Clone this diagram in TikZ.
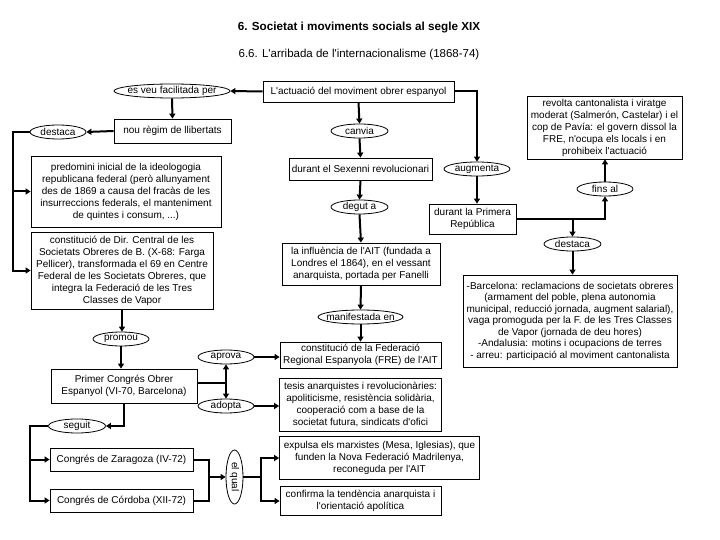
\documentclass[tikz,border=0pt]{standalone}
\usepackage{fontspec}
\setmainfont{Liberation Sans}
\usetikzlibrary{arrows.meta,shapes.geometric}
\newcommand{\ap}{\textquotesingle}
\begin{document}
\begin{tikzpicture}[x=1pt,y=-1pt,
  box/.style={draw, line width=0.8pt, align=center, inner sep=0pt, fill=white, font=\fontsize{10}{12}\selectfont},
  oval/.style={ellipse, draw, line width=0.8pt, inner sep=0pt, minimum height=14pt, fill=white, font=\fontsize{10}{12}\selectfont},
  link/.style={line width=2pt},
  arr/.style={link, -{Triangle[length=5pt,width=6pt]}},
  ttl/.style={anchor=base, font=\fontsize{11.5}{14}\selectfont}
]
\useasboundingbox (0,0) rectangle (720,540);
\node[ttl, font=\bfseries\fontsize{11.7}{14}\selectfont] (title) at (359,31) {6. Societat i moviments socials al segle XIX};
\node[ttl] (sub) at (359,58) {6.6. L\ap arribada de l\ap internacionalisme (1868-74)};

% central column
\node[box, minimum width=191pt, minimum height=21pt] (act) at (358.5,91.5) {L\ap actuació del moviment obrer espanyol};
\node[oval, minimum width=57pt] (canvia) at (359.5,131) {\makebox[0pt]{canvia}};
\node[box, minimum width=143pt, minimum height=22pt] (sex) at (360.5,169) {durant el Sexenni revolucionari};
\node[oval, minimum width=57pt] (degut) at (359.5,207) {\makebox[0pt]{degut a}};
\node[box, minimum width=158pt, minimum height=42pt] (infl) at (361,264) {la influència de l\ap AIT (fundada a\\Londres el 1864), en el vessant\\anarquista, portada per Fanelli};
\node[oval, minimum width=85pt] (manif) at (360.5,317) {\makebox[0pt]{manifestada en}};
\node[box, minimum width=161pt, minimum height=26pt] (fre) at (360.5,355) {constitució de la Federació\\Regional Espanyola (FRE) de l\ap AIT};
\node[box, minimum width=162pt, minimum height=53pt] (tesis) at (360.5,404.5) {tesis anarquistes i revolucionàries:\\apoliticisme, resistència solidària,\\cooperació com a base de la\\societat futura, sindicats d\ap ofici};
\node[box, minimum width=200pt, minimum height=43pt] (exp) at (379.5,458) {expulsa els marxistes (Mesa, Iglesias), que\\funden la Nova Federació Madrilenya,\\reconeguda per l\ap AIT};
\node[box, minimum width=161pt, minimum height=29pt] (conf) at (360.5,501) {confirma la tendència anarquista i\\l\ap orientació apolítica};

% left column
\node[oval, minimum width=116pt] (esveu) at (172,91) {\makebox[0pt]{es veu facilitada per}};
\node[box, minimum width=117pt, minimum height=24pt] (nou) at (172.5,131) {nou règim de llibertats};
\node[oval, minimum width=56pt] (dest1) at (58,132) {\makebox[0pt]{destaca}};
\node[box, minimum width=190pt, minimum height=71pt] (pred) at (126,191.5) {predomini inicial de la ideologogia\\republicana federal (però allunyament\\des de 1869 a causa del fracàs de les\\insurreccions federals, el manteniment\\de quintes i consum, ...)};
\node[box, minimum width=182pt, minimum height=77pt] (cdir) at (122,270.5) {constitució de Dir. Central de les\\Societats Obreres de B. (X-68: Farga\\Pellicer), transformada el 69 en Centre\\Federal de les Societats Obreres, que\\integra la Federació de les Tres\\Classes de Vapor};
\node[oval, minimum width=56pt] (promou) at (121,339) {\makebox[0pt]{promou}};
\node[box, minimum width=146pt, minimum height=34pt] (pc) at (124,386) {Primer Congrés Obrer\\Espanyol (VI-70, Barcelona)};
\node[oval, minimum width=56pt] (aprova) at (226,357) {\makebox[0pt]{aprova}};
\node[oval, minimum width=56pt] (adopta) at (226,406) {\makebox[0pt]{adopta}};
\node[oval, minimum width=57pt] (seguit) at (77,426) {\makebox[0pt]{seguit}};
\node[box, minimum width=143pt, minimum height=23pt] (zar) at (121.5,459.5) {Congrés de Zaragoza (IV-72)};
\node[box, minimum width=143pt, minimum height=23pt] (cor) at (121.5,500.5) {Congrés de Córdoba (XII-72)};
\node[oval, minimum width=17pt, minimum height=54pt] (elqual) at (234.5,477) {\rotatebox{-90}{\makebox[0pt]{el qual}}};

% right column
\node[oval, minimum width=66pt] (augm) at (477,169) {\makebox[0pt]{augmenta}};
\node[box, minimum width=87pt, minimum height=30pt] (rep) at (472.5,219) {durant la Primera\\República};
\node[oval, minimum width=56pt] (fins) at (605,189) {\makebox[0pt]{fins al}};
\node[box, minimum width=155pt, minimum height=63pt] (rev) at (604.5,127.5) {revolta cantonalista i viratge\\moderat (Salmerón, Castelar) i el\\cop de Pavía: el govern dissol la\\FRE, n\ap ocupa els locals i en\\prohibeix l\ap actuació};
\node[oval, minimum width=57pt] (dest2) at (572.5,244) {\makebox[0pt]{destaca}};
\node[box, minimum width=214pt, minimum height=92pt, font=\fontsize{10}{11.5}\selectfont] (barc) at (570,321) {-Barcelona: reclamacions de societats obreres\\(armament del poble, plena autonomia\\municipal, reducció jornada, augment salarial),\\vaga promoguda per la F. de les Tres Classes\\de Vapor (jornada de deu hores)\\-Andalusia: motins i ocupacions de terres\\- arreu: participació al moviment cantonalista};

% coordinates
\coordinate (lb) at (13,132);
\coordinate (pj) at (226,383);
\coordinate (sj) at (30,426);
\coordinate (zj) at (209,477);
\coordinate (ej) at (261,477);

% connectors
\draw[arr] (act.west) -- (esveu.east);
\draw[arr] (act.south) -- (canvia.north);
\draw[arr] (canvia.south) -- (sex.north);
\draw[arr] (sex.south) -- (degut.north);
\draw[arr] (degut.south) -- (infl.north);
\draw[arr] (infl.south) -- (manif.north);
\draw[arr] (manif.south) -- (fre.north);

\draw[arr] (act.east) -| (augm.north);
\draw[arr] (augm.south) -- (augm.south |- rep.north);
\draw[arr] (rep.east) -| (fins.south);
\draw[arr] (rep.east -| dest2.north) -- (dest2.north);
\draw[arr] (fins.north) -- (fins.north |- rev.south);
\draw[arr] (dest2.south) -- (dest2.south |- barc.north);

\draw[arr] (esveu.south) -- (nou.north);
\draw[arr] (nou.west) -- (dest1.east);
\draw[arr] (dest1.west) -- (lb) |- (cdir.west);
\draw[arr] (lb |- pred.west) -- (pred.west);
\draw[arr] (cdir.south) -- (cdir.south |- promou.north);
\draw[arr] (promou.south) -- (promou.south |- pc.north);
\draw[link] (pc.east |- pj) -- (pj);
\draw[arr] (pj) -- (aprova.south);
\draw[arr] (pj) -- (adopta.north);
\draw[arr] (aprova.east) -- (aprova.east -| fre.west);
\draw[arr] (adopta.east) -- (adopta.east -| tesis.west);
\draw[arr] (pc.south) |- (seguit.east);
\draw[arr] (seguit.west) -- (sj) |- (zar.west);
\draw[arr] (sj) |- (cor.west);
\draw[link] (zar.east) -| (zj);
\draw[link] (cor.east) -| (zj);
\draw[arr] (zj) -- (elqual.west);
\draw[link] (elqual.east) -- (ej);
\draw[arr] (ej) |- (exp.west);
\draw[arr] (ej) |- (conf.west);
\end{tikzpicture}
\end{document}
